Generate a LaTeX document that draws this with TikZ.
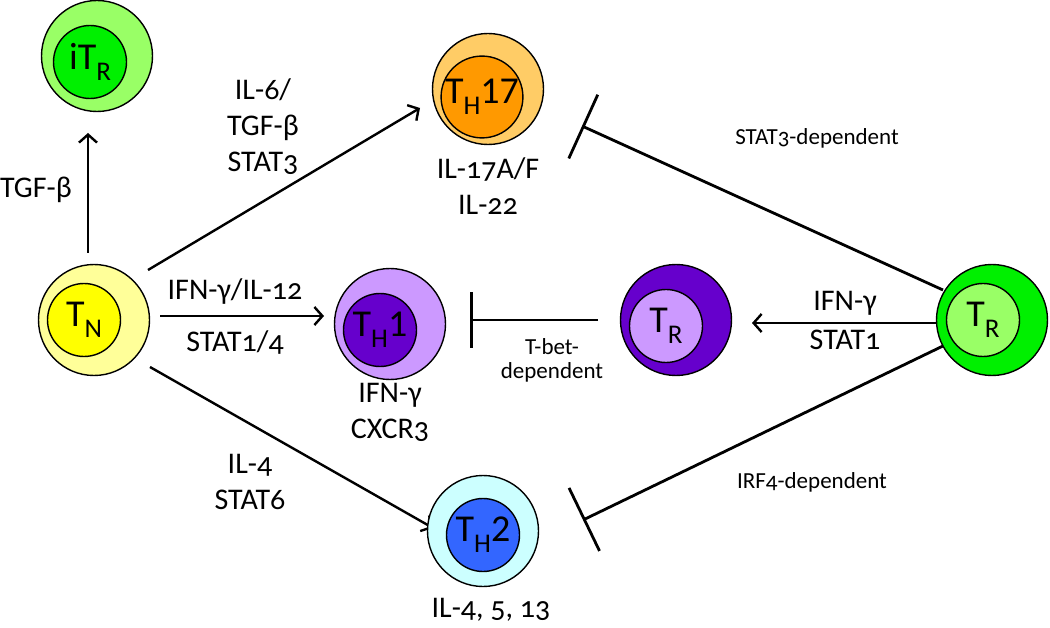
\documentclass[tikz,border=0pt]{standalone}
\usepackage{fontspec}
\setmainfont{Carlito}[Numbers=OldStyle]
\newfontfamily\cellfont{Carlito}[Numbers=Lining]
\usetikzlibrary{arrows.meta,calc}
\pgfdeclarelayer{bg}
\pgfsetlayers{bg,main}
\definecolor{lgreen}{RGB}{153,255,102}
\definecolor{bgreen}{RGB}{0,240,0}
\definecolor{lyellow}{RGB}{255,255,153}
\definecolor{yel}{RGB}{255,255,0}
\definecolor{lorange}{RGB}{255,204,102}
\definecolor{orng}{RGB}{255,153,0}
\definecolor{lviolet}{RGB}{204,153,255}
\definecolor{violet}{RGB}{102,0,204}
\definecolor{lcyan}{RGB}{204,255,255}
\definecolor{blu}{RGB}{51,102,255}
\newcommand\subs[1]{\raisebox{-11pt}{\fontsize{27}{27}\selectfont #1}}
\begin{document}
\begin{tikzpicture}[x=1pt,y=-1pt,
  outer/.style={circle, draw, line width=1.4pt, minimum size=111pt, inner sep=0pt},
  inner/.style={circle, draw, line width=1.4pt, minimum size=73pt, inner sep=0pt, font=\cellfont\fontsize{38}{38}\selectfont},
  arr/.style={line width=2.4pt, -{Straight Barb[length=8pt,width=18pt,line width=2.4pt]}},
  inh/.style={line width=2.8pt, -{Bar[width=#1]}},
  inh/.default=70pt,
  lbl/.style={font=\fontsize{30}{36}\selectfont, align=center, inner sep=0pt},
  slbl/.style={font=\fontsize{23}{24}\selectfont, align=center, inner sep=0pt}]
\useasboundingbox (0,0) rectangle (1050,628);
% cells
\node[outer, fill=lgreen] (iTR) at (97,56) {};
\node[inner, fill=bgreen] (iTRi) at (90,62) {iT\subs{R}};
\node[outer, fill=lyellow] (TN) at (94,320) {};
\node[inner, fill=yel] (TNi) at (84,320) {T\subs{N}};
\node[outer, fill=lorange] (TH17) at (488,89) {};
\node[inner, fill=orng] (TH17i) at (482,97) {T\subs{H}17};
\node[outer, fill=lviolet] (TH1) at (390,324) {};
\node[inner, fill=violet] (TH1i) at (380,330) {T\subs{H}1};
\node[outer, fill=lcyan] (TH2) at (483,531) {};
\node[inner, fill=blu] (TH2i) at (483,535) {T\subs{H}2};
\node[outer, fill=violet] (TRp) at (676,320) {};
\node[inner, fill=lviolet] (TRpi) at (666,326) {T\subs{R}};
\node[outer, fill=bgreen] (TRg) at (992,320) {};
\node[inner, fill=lgreen] (TRgi) at (983,320) {T\subs{R}};
% connectors
\begin{pgfonlayer}{bg}
\draw[arr] ($(TN)+(-6,-67)$) -- ($(iTR)+(-9,77)$);
\draw[arr] ($(TN)+(54,-50)$) -- ($(TH17)+(-68,19)$);
\draw[arr] ($(TN)+(66,-4)$) -- ($(TH1)+(-66,-8)$);
\draw[arr] ($(TN)+(56,47)$) -- ($(TH2)+(-50,-3)$);
\draw[arr] ($(TRg)+(-45,3)$) -- ($(TRp)+(76,3)$);
\draw[inh] ($(TRg)+(-49,-30)$) -- ($(TH17)+(94,37)$);
\draw[inh] ($(TRg)+(-47,25)$) -- ($(TH2)+(100,-11)$);
\end{pgfonlayer}
\draw[inh=56pt] ($(TRp)+(-78,0)$) -- ($(TH1)+(80,-4)$);
% labels
\node[lbl] (l1) at (36,190) {TGF-β};
\node[lbl] (l2) at (263,127) {IL-6/\\TGF-β\\STAT3};
\node[lbl] (l3) at (235,292) {IFN-γ/IL-12};
\node[lbl] (l4) at (235,342) {STAT1/4};
\node[lbl] (l5) at (250,482) {IL-4\\STAT6};
\node[lbl] (l6) at (488,186) {IL-17A/F\\IL-22};
\node[lbl] (l7) at (390,412) {IFN-γ\\CXCR3};
\node[lbl] (l8) at (491,610) {IL-4, 5, 13};
\node[lbl] (l9) at (845,303) {IFN-γ};
\node[lbl] (l10) at (845,340) {STAT1};
\node[slbl] (l11) at (552,360) {T-bet-\\dependent};
\node[slbl] (l12) at (817,138) {STAT3-dependent};
\node[slbl] (l13) at (812,482) {IRF4-dependent};
\end{tikzpicture}
\end{document}
